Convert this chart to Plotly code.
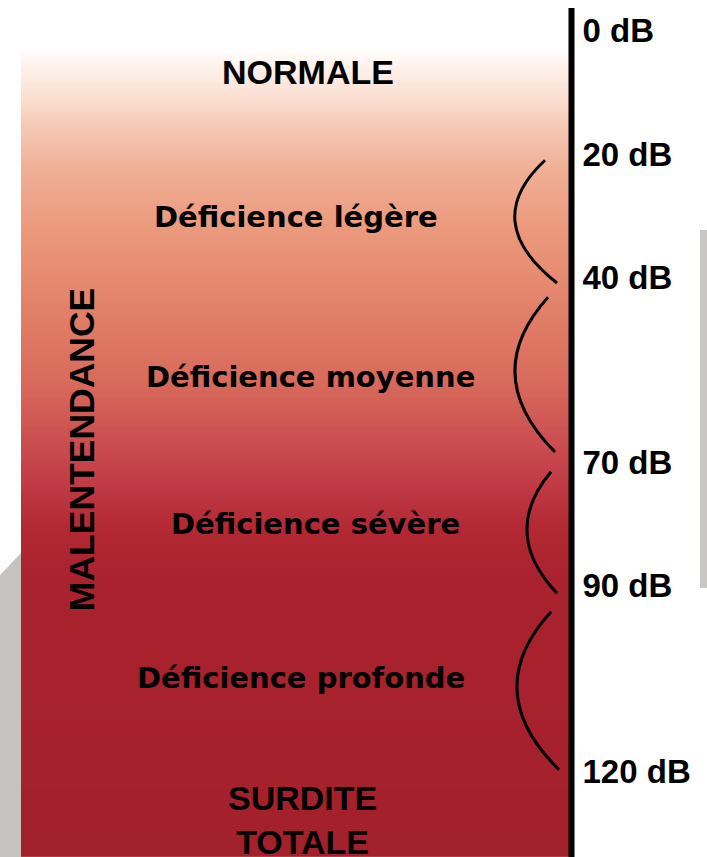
import numpy as np
import plotly.graph_objects as go

# ---- data ----
tick_db = [0, 20, 40, 70, 90, 120]
tick_text = ["0 dB", "20 dB", "40 dB", "70 dB", "90 dB", "120 dB"]

category_labels = ["Déficience légère", "Déficience moyenne",
                   "Déficience sévère", "Déficience profonde"]
category_label_db = [30.2, 56.1, 80.0, 104.9]
category_label_x = [296, 310, 315, 301]

header_labels = ["NORMALE", "SURDITE<br>TOTALE"]
header_label_db = [6.7, 127.9]
header_label_x = [308, 302]

side_label = "MALENTENDANCE"
side_label_db = 68.0
side_label_x = 82

# bracket arcs between the thresholds (dB)
arc_top_db = [21.0, 43.2, 71.5, 94.2]
arc_bot_db = [40.9, 68.3, 91.2, 119.8]
arc_top_x = [545, 548, 551, 551]
arc_bot_x = [557, 555, 557, 559]
arc_bulge_x = [515, 515, 527, 517]

# background gradient stops (dB -> colour)
grad_db = [-5.0, 3.1, 4.8, 11.2, 16.1, 22.6, 30.7, 40.4, 48.5, 56.6, 64.7, 72.8, 80.9, 89.0, 134.0]
grad_col = ["#FFFFFF", "#FFFFFF", "#FFF5F0", "#FADDCF", "#F5C7B2", "#F0AF95", "#EC9C80",
            "#E68A70", "#DF7A64", "#D86B5C", "#CE5453", "#C13D47", "#B22833", "#A9222D", "#A3212B"]

# ---- layout geometry (pixels) ----
W, H = 707, 857
db0_px, px_per_db = 30.7, 6.169
y_top = (0 - db0_px) / px_per_db
y_bot = (H - db0_px) / px_per_db
rect_x0, rect_x1 = 21, 569
axis_x = 571.5

zmin, zmax = grad_db[0], grad_db[-1]
colorscale = [[(d - zmin) / (zmax - zmin), c] for d, c in zip(grad_db, grad_col)]

y_edges = np.linspace(zmin, zmax, 701)
y_cent = (y_edges[:-1] + y_edges[1:]) / 2

fig = go.Figure()
fig.add_trace(go.Heatmap(
    x=[rect_x0, rect_x1], y=y_edges, z=[[v] for v in y_cent],
    colorscale=colorscale, zmin=zmin, zmax=zmax, showscale=False,
    hoverinfo="skip", zsmooth=False,
))

shapes = []
def px2paper(py):
    return 1 - py / H

# grey decorative panels
shapes.append(dict(type="path", xref="x", yref="paper",
                   path=f"M 0,{px2paper(575)} L {rect_x0},{px2paper(553)} L {rect_x0},0 L 0,0 Z",
                   fillcolor="#C4C3BF", line=dict(width=0), layer="below"))
shapes.append(dict(type="rect", xref="x", yref="paper", x0=700, x1=W + 5,
                   y0=px2paper(588), y1=px2paper(230),
                   fillcolor="#C9C7C3", line=dict(width=0), layer="below"))

# vertical scale line
shapes.append(dict(type="line", xref="x", yref="y", x0=axis_x, x1=axis_x,
                   y0=(8 - db0_px) / px_per_db, y1=y_bot + 1,
                   line=dict(color="black", width=6)))

# bracket arcs
for t, b, tx, bx, mx in zip(arc_top_db, arc_bot_db, arc_top_x, arc_bot_x, arc_bulge_x):
    cx = 2 * mx - (tx + bx) / 2
    cy = (t + b) / 2
    shapes.append(dict(type="path", xref="x", yref="y",
                       path=f"M {tx},{t} Q {cx},{cy} {bx},{b}",
                       line=dict(color="black", width=3)))

annotations = []
for lab, d, x in zip(category_labels, category_label_db, category_label_x):
    annotations.append(dict(x=x, y=d, xref="x", yref="y", text=lab, showarrow=False,
                            font=dict(family="DejaVu Sans", size=29, color="black",
                                      weight="bold")))
for lab, d, x in zip(header_labels, header_label_db, header_label_x):
    annotations.append(dict(x=x, y=d, xref="x", yref="y", text=lab, showarrow=False,
                            font=dict(family="Liberation Sans, Arial", size=34, color="black",
                                      weight="bold")))
annotations.append(dict(x=side_label_x, y=side_label_db, xref="x", yref="y", text=side_label,
                        showarrow=False, textangle=-90,
                        font=dict(family="Liberation Sans, Arial", size=35.5, color="black",
                                  weight="bold")))

fig.update_layout(
    width=W, height=H, margin=dict(l=0, r=0, t=0, b=0),
    paper_bgcolor="white", plot_bgcolor="white",
    showlegend=False,
    xaxis=dict(range=[0, W], visible=False, fixedrange=True),
    yaxis=dict(range=[y_bot, y_top], anchor="free", position=axis_x / W, side="right",
               tickvals=tick_db, ticktext=tick_text, showgrid=False, zeroline=False,
               showline=False, ticks="", ticklabelstandoff=10, fixedrange=True,
               tickfont=dict(family="Liberation Sans, Arial", size=33, color="black",
                             weight="bold")),
    shapes=shapes, annotations=annotations,
)

fig.write_html("out.html", config={"displayModeBar": False},
               post_script="document.body.style.margin='0px';")
